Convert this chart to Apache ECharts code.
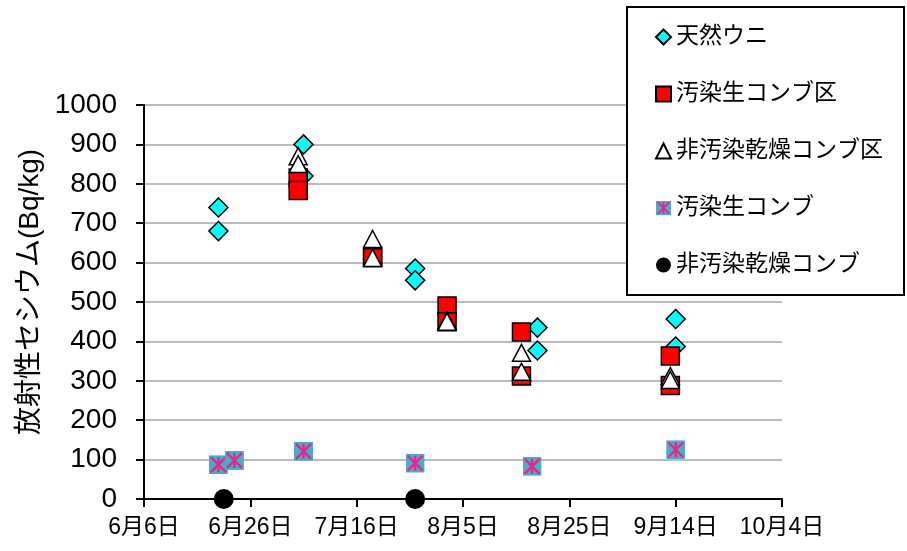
<!DOCTYPE html>
<html>
<head>
<meta charset="utf-8">
<script src="https://cdn.jsdelivr.net/npm/echarts@6/dist/echarts.min.js"></script>
<style>
  html, body { margin: 0; padding: 0; background: #fff; }
  #chart { width: 907px; height: 551px; }
</style>
</head>
<body>
<div id="chart"></div>
<script>
// Radiocesium in sea urchins and kelp feed, 2011 summer survey
const FONT = '"Liberation Sans", "Noto Sans CJK JP", sans-serif';

const tickLabels = ['6月6日', '6月26日', '7月16日', '8月5日', '8月25日', '9月14日', '10月4日'];
const yTicks = [0, 100, 200, 300, 400, 500, 600, 700, 800, 900, 1000];

const seriesNames = ['天然ウニ', '汚染生コンブ区', '非汚染乾燥コンブ区', '汚染生コンブ', '非汚染乾燥コンブ'];

// 天然ウニ
const wildDates = ['06-20', '06-20', '07-06', '07-06', '07-27', '07-27', '08-19', '08-19', '09-14', '09-14'];
const wildValues = [740, 680, 900, 820, 585, 555, 435, 377, 457, 387];

// 汚染生コンブ区
const freshPlotDates = ['07-05', '07-05', '07-19', '07-19', '08-02', '08-02', '08-16', '08-16', '09-13', '09-13'];
const freshPlotValues = [815, 783, 617, 612, 490, 450, 424, 312, 363, 288];

// 非汚染乾燥コンブ区
const dryPlotDates = ['07-05', '07-05', '07-19', '07-19', '08-02', '08-02', '08-16', '08-16', '09-13', '09-13'];
const dryPlotValues = [870, 850, 660, 612, 453, 450, 371, 323, 312, 302];

// 汚染生コンブ
const freshKelpDates = ['06-20', '06-23', '07-06', '07-27', '08-18', '09-14'];
const freshKelpValues = [87, 98, 121, 91, 83, 125];

// 非汚染乾燥コンブ
const dryKelpDates = ['06-21', '07-27'];
const dryKelpValues = [0, 0];

const ORIGIN = Date.UTC(2011, 5, 6);
function dayOffset(md) {
  const [m, d] = md.split('-').map(Number);
  return Math.round((Date.UTC(2011, m - 1, d) - ORIGIN) / 86400000);
}
function pairs(dates, values) {
  return dates.map((d, i) => [dayOffset(d), values[i]]);
}

// teal square with a pink asterisk
function asteriskIcon(size) {
  const s = size, c = s / 2, p = 2;
  const svg = '<svg xmlns="http://www.w3.org/2000/svg" width="' + s + '" height="' + s + '">' +
    '<rect x="0" y="0" width="' + s + '" height="' + s + '" fill="#4BACC6"/>' +
    '<g stroke="#F0208C" stroke-width="2.4" fill="none">' +
    '<line x1="' + c + '" y1="' + p + '" x2="' + c + '" y2="' + (s - p) + '"/>' +
    '<line x1="' + p + '" y1="' + p + '" x2="' + (s - p) + '" y2="' + (s - p) + '"/>' +
    '<line x1="' + (s - p) + '" y1="' + p + '" x2="' + p + '" y2="' + (s - p) + '"/>' +
    '</g></svg>';
  return 'image://data:image/svg+xml;charset=utf-8,' + encodeURIComponent(svg);
}

const chart = echarts.init(document.getElementById('chart'), null, { renderer: 'canvas' });

const option = {
  backgroundColor: '#ffffff',
  animation: false,
  textStyle: { fontFamily: FONT },
  grid: { left: 144, right: 125, top: 105, bottom: 52, containLabel: false },
  graphic: [{
    type: 'rect',
    z: 3,
    shape: { x: 627, y: 7, width: 277, height: 288 },
    style: { fill: '#ffffff', stroke: '#000000', lineWidth: 2 }
  }],
  legend: {
    orient: 'vertical',
    left: 655,
    top: 25,
    z: 4,
    itemGap: 33,
    itemWidth: 15,
    itemHeight: 15,
    padding: 0,
    data: seriesNames,
    textStyle: { fontFamily: FONT, fontSize: 23, color: '#000', lineHeight: 24, padding: [0, 0, 0, 0] }
  },
  xAxis: {
    type: 'value',
    min: 0,
    max: 120,
    interval: 20,
    axisLine: { show: true, lineStyle: { color: '#000', width: 2 } },
    axisTick: { show: true, length: 8, lineStyle: { color: '#000', width: 2 } },
    splitLine: { show: false },
    axisLabel: {
      margin: 17,
      fontFamily: FONT,
      fontSize: 23,
      color: '#000',
      formatter: v => tickLabels[Math.round(v / 20)]
    }
  },
  yAxis: {
    type: 'value',
    min: yTicks[0],
    max: yTicks[yTicks.length - 1],
    interval: 100,
    name: '放射性セシウム(Bq/kg)',
    nameLocation: 'middle',
    nameGap: 100,
    nameRotate: 90,
    nameTextStyle: { fontFamily: FONT, fontSize: 28, color: '#000', padding: [0, 0, 0, 20] },
    axisLine: { show: true, lineStyle: { color: '#000', width: 2 } },
    axisTick: { show: true, length: 8, lineStyle: { color: '#000', width: 2 } },
    splitLine: { show: true, lineStyle: { color: '#A6A6A6', width: 1.5 } },
    axisLabel: { margin: 27, fontFamily: FONT, fontSize: 28, color: '#000', formatter: v => String(v) }
  },
  series: [
    {
      name: seriesNames[0],
      type: 'scatter',
      clip: false,
      symbol: 'diamond',
      symbolSize: 19,
      itemStyle: { color: '#00FFFF', borderColor: '#000', borderWidth: 1.5, opacity: 1 },
      data: pairs(wildDates, wildValues)
    },
    {
      name: seriesNames[1],
      type: 'scatter',
      clip: false,
      symbol: 'rect',
      symbolSize: 18,
      itemStyle: { color: '#FF0000', borderColor: '#000', borderWidth: 1.5, opacity: 1 },
      data: pairs(freshPlotDates, freshPlotValues)
    },
    {
      name: seriesNames[2],
      type: 'scatter',
      clip: false,
      symbol: 'triangle',
      symbolSize: [18, 17],
      itemStyle: { color: '#FFFFFF', borderColor: '#000', borderWidth: 1.5, opacity: 1 },
      data: pairs(dryPlotDates, dryPlotValues)
    },
    {
      name: seriesNames[3],
      type: 'scatter',
      clip: false,
      symbol: asteriskIcon(19),
      symbolSize: 19,
      itemStyle: { color: '#4BACC6', opacity: 1 },
      data: pairs(freshKelpDates, freshKelpValues)
    },
    {
      name: seriesNames[4],
      type: 'scatter',
      clip: false,
      symbol: 'circle',
      symbolSize: 20,
      itemStyle: { color: '#000000', opacity: 1 },
      data: pairs(dryKelpDates, dryKelpValues)
    }
  ]
};

chart.setOption(option);
</script>
</body>
</html>
